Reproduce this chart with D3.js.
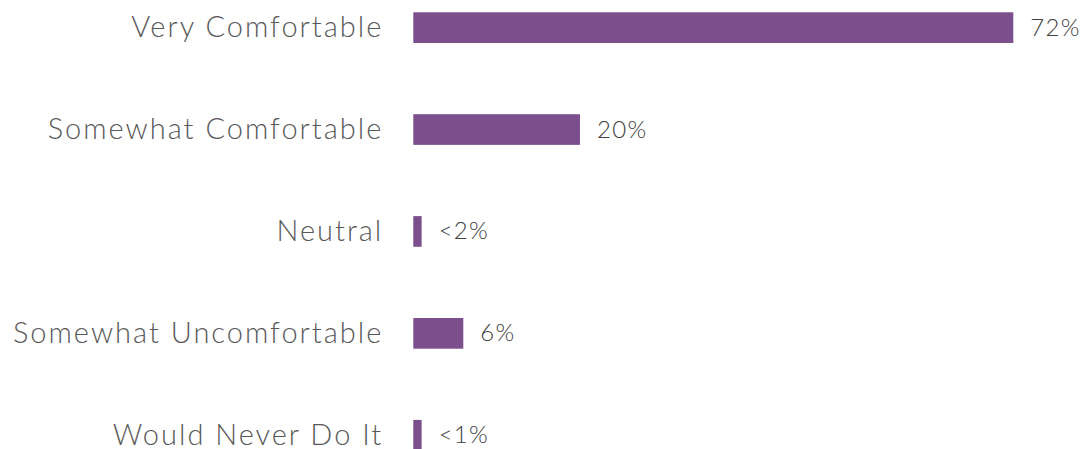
<!DOCTYPE html>
<html>
<head>
<meta charset="utf-8">
<script src="https://cdn.jsdelivr.net/npm/d3@7"></script>
<style>
html,body{margin:0;padding:0;background:#fff;}
svg{display:block;}
</style>
</head>
<body>
<svg id="chart" width="1085" height="449"></svg>
<script>
const categories = ["Very Comfortable","Somewhat Comfortable","Neutral","Somewhat Uncomfortable","Would Never Do It"];
const values = [72, 20, 1, 6, 1];
const valueLabels = ["72%","20%","<2%","6%","<1%"];

const svg = d3.select("#chart");
const x = d3.scaleLinear().domain([0, 72]).range([413.3, 1013.3]);
const y = d3.scaleBand().domain(categories).range([12.3, 450.6]).paddingInner(0.699).paddingOuter(0);

const data = categories.map((c,i)=>({c, v: values[i], l: valueLabels[i]}));

svg.selectAll("rect.bar").data(data).join("rect")
  .attr("class","bar")
  .attr("x", x(0))
  .attr("y", d=>y(d.c))
  .attr("width", d=>x(d.v)-x(0))
  .attr("height", y.bandwidth())
  .attr("fill","#7b4f8b");

svg.selectAll("text.cat").data(data).join("text")
  .attr("class","cat")
  .attr("x", x(0)-30)
  .attr("y", d=>y(d.c)+y.bandwidth()/2+9.5)
  .attr("text-anchor","end")
  .attr("font-family","Lato, 'Open Sans', sans-serif")
  .attr("font-weight",300)
  .attr("font-size","29px")
  .attr("letter-spacing","2px")
  .attr("fill","#595959")
  .text(d=>d.c);

svg.selectAll("text.val").data(data).join("text")
  .attr("class","val")
  .attr("x", d=>x(d.v)+17)
  .attr("y", d=>y(d.c)+y.bandwidth()/2+8)
  .attr("text-anchor","start")
  .attr("font-family","Lato, 'Open Sans', sans-serif")
  .attr("font-weight",300)
  .attr("font-size","24px")
  .attr("letter-spacing","1.3px")
  .attr("fill","#404040")
  .text(d=>d.l);
</script>
</body>
</html>
